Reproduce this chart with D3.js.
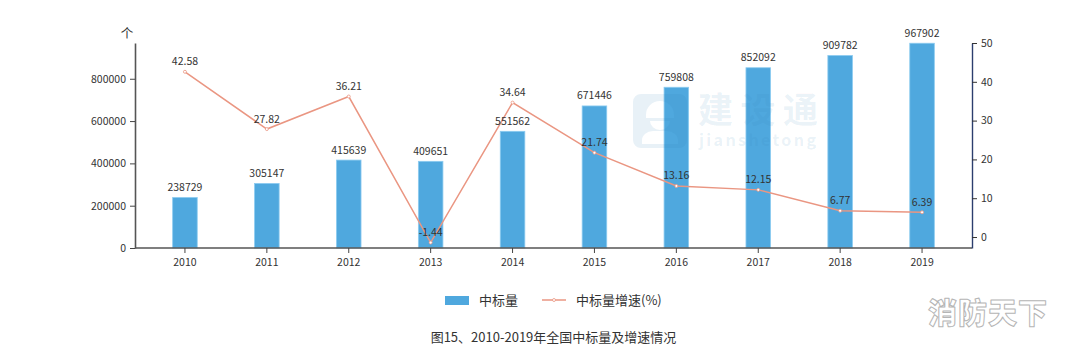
<!DOCTYPE html>
<html>
<head>
<meta charset="utf-8">
<script src="https://cdn.jsdelivr.net/npm/d3@7"></script>
<style>
  html, body { margin: 0; padding: 0; background: #fff; }
  svg { display: block; }
  text { font-family: "Noto Sans CJK SC", "Noto Sans", sans-serif; }
  .tick text { font-size: 10.5px; fill: #333; }
  .label { font-size: 10.5px; fill: #333; text-anchor: middle; }
</style>
</head>
<body>
<div id="chart"></div>
<script>
var years = ["2010", "2011", "2012", "2013", "2014", "2015", "2016", "2017", "2018", "2019"]
var bidCount = [238729, 305147, 415639, 409651, 551562, 671446, 759808, 852092, 909782, 967902]
var growth = [42.58, 27.82, 36.21, -1.44, 34.64, 21.74, 13.16, 12.15, 6.77, 6.39]
var leftTicks = [0, 200000, 400000, 600000, 800000]
var rightTicks = [0, 10, 20, 30, 40, 50]

var width = 1080
var height = 354
var margin = {top: 43, right: 108, bottom: 106, left: 135}
var barColor = "#4fa8de"
var lineColor = "#ea9682"

var svg = d3.select("#chart")
    .append("svg")
    .attr("width", width)
    .attr("height", height)

var bottom = height - margin.bottom
var right = width - margin.right

var xScale = d3.scaleBand()
    .domain(years)
    .range([margin.left + 9, right - 9])
    .paddingInner(0.7)
    .paddingOuter(0.35)

var yLeft = d3.scaleLinear()
    .domain([0, 969000])
    .range([bottom, margin.top])

var yRight = d3.scaleLinear()
    .domain([-2.83, 50])
    .range([bottom, margin.top])

function center(d) {
  return xScale(d) + xScale.bandwidth() / 2
}

// bars
svg.append("g").selectAll("rect")
    .data(years)
    .enter()
    .append("rect")
    .attr("x", function(d) { return xScale(d) })
    .attr("y", function(d, i) { return yLeft(bidCount[i]) })
    .attr("width", xScale.bandwidth())
    .attr("height", function(d, i) { return bottom - yLeft(bidCount[i]) })
    .attr("fill", barColor)
    .attr("stroke", "#8ccbf0")
    .attr("stroke-width", 0.8)

// axes
var xAxis = svg.append("g")
    .attr("transform", "translate(0," + bottom + ")")
    .call(d3.axisBottom(xScale).tickSize(5).tickPadding(6).tickSizeOuter(0))
xAxis.select(".domain").attr("stroke", "#555").attr("stroke-width", 1.6)
    .attr("d", "M" + margin.left + ",0H" + right)
xAxis.selectAll(".tick line").attr("stroke", "#444")

var leftAxis = svg.append("g")
    .attr("transform", "translate(" + margin.left + ",0)")
    .call(d3.axisLeft(yLeft).tickValues(leftTicks).tickFormat(d3.format("d")).tickSize(5).tickPadding(4).tickSizeOuter(0))
leftAxis.select(".domain").attr("stroke", "#555").attr("stroke-width", 1.6)
leftAxis.selectAll(".tick line").attr("stroke", "#444")

var rightAxis = svg.append("g")
    .attr("transform", "translate(" + right + ",0)")
    .call(d3.axisRight(yRight).tickValues(rightTicks).tickSize(5).tickPadding(4).tickSizeOuter(0))
rightAxis.select(".domain").attr("stroke", "#2c3e6e").attr("stroke-width", 1.4)
rightAxis.selectAll(".tick line").attr("stroke", "#333")

svg.append("text")
    .attr("x", 127)
    .attr("y", 38)
    .attr("text-anchor", "middle")
    .attr("font-size", 12.5)
    .attr("fill", "#333")
    .text("个")

// growth line
var line = d3.line()
    .x(function(d, i) { return center(years[i]) })
    .y(function(d) { return yRight(d) })

svg.append("path")
    .attr("d", line(growth))
    .attr("fill", "none")
    .attr("stroke", lineColor)
    .attr("stroke-width", 1.5)

svg.append("g").selectAll("circle")
    .data(growth)
    .enter()
    .append("circle")
    .attr("cx", function(d, i) { return center(years[i]) })
    .attr("cy", function(d) { return yRight(d) })
    .attr("r", 1.5)
    .attr("fill", "#fff")
    .attr("stroke", lineColor)
    .attr("stroke-width", 0.8)

// data labels
svg.append("g").selectAll("text")
    .data(bidCount)
    .enter()
    .append("text")
    .attr("class", "label")
    .attr("x", function(d, i) { return center(years[i]) })
    .attr("y", function(d) { return yLeft(d) - 6.5 })
    .text(function(d) { return d })

svg.append("g").selectAll("text")
    .data(growth)
    .enter()
    .append("text")
    .attr("class", "label")
    .attr("x", function(d, i) { return center(years[i]) })
    .attr("y", function(d) { return yRight(d) - 6.5 })
    .text(function(d) { return d })

// legend
svg.append("rect")
    .attr("x", 445).attr("y", 296)
    .attr("width", 24).attr("height", 9)
    .attr("fill", barColor)
svg.append("text")
    .attr("x", 479).attr("y", 305)
    .attr("font-size", 13).attr("fill", "#333")
    .text("中标量")
svg.append("line")
    .attr("x1", 542).attr("x2", 566)
    .attr("y1", 300).attr("y2", 300)
    .attr("stroke", lineColor).attr("stroke-width", 1.5)
svg.append("circle")
    .attr("cx", 554).attr("cy", 300).attr("r", 1.5)
    .attr("fill", "#fff").attr("stroke", lineColor).attr("stroke-width", 0.8)
svg.append("text")
    .attr("x", 576).attr("y", 305)
    .attr("font-size", 13).attr("fill", "#333")
    .text("中标量增速(%)")

// title
svg.append("text")
    .attr("x", 553.5).attr("y", 342)
    .attr("text-anchor", "middle")
    .attr("font-size", 13).attr("fill", "#333")
    .text("图15、2010-2019年全国中标量及增速情况")

// watermark
var mark = svg.append("g").attr("fill", "#2f7fb8").attr("fill-opacity", 0.11)
mark.append("path")
    .attr("fill-rule", "evenodd")
    .attr("d", "M641,94H679a8,8 0 0 1 8,8V140a8,8 0 0 1 -8,8H641a8,8 0 0 1 -8,-8V102a8,8 0 0 1 8,-8Z"
      + "M660,101a14,14 0 0 0 -14,14v3h28v-3a14,14 0 0 0 -14,-14Z"
      + "M650,121a10,9 0 0 0 20,0ZM642,144h36v-4a11,9 0 0 0 -11,-9h-14a11,9 0 0 0 -11,9Z")
mark.append("text")
    .attr("x", 698).attr("y", 123)
    .attr("font-size", 35).attr("font-weight", 700)
    .attr("letter-spacing", 7.5)
    .text("建设通")
mark.append("text")
    .attr("x", 699).attr("y", 146)
    .attr("font-size", 16).attr("font-weight", 700)
    .attr("letter-spacing", 2.4)
    .text("jianshetong")

svg.append("text")
    .attr("x", 928).attr("y", 324)
    .attr("font-size", 29).attr("font-weight", 900)
    .attr("letter-spacing", 1)
    .attr("fill", "#fff")
    .attr("stroke", "#b5b5b5")
    .attr("stroke-width", 1)
    .attr("stroke-linejoin", "round")
    .text("消防天下")
</script>
</body>
</html>
